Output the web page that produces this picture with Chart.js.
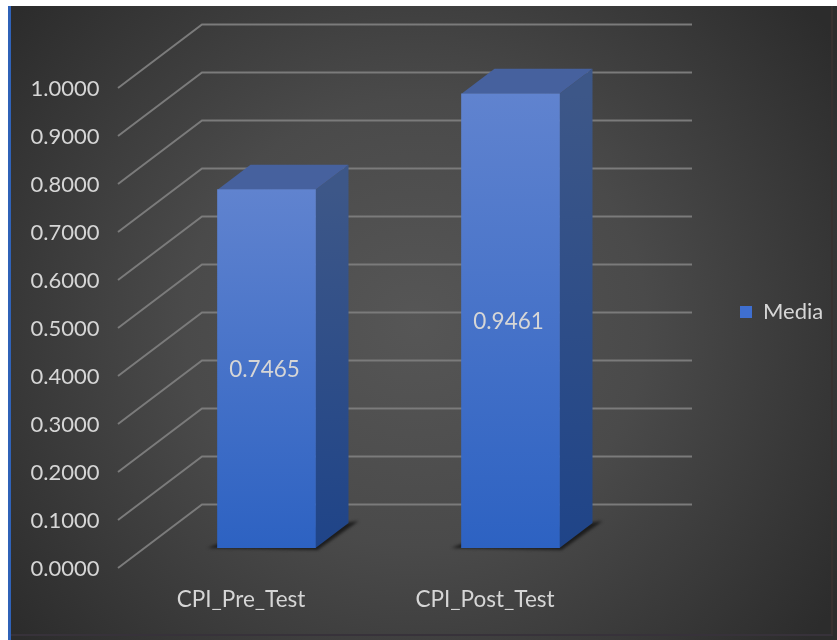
<!DOCTYPE html>
<html>
<head>
<meta charset="utf-8">
<script src="https://cdn.jsdelivr.net/npm/chart.js@4/dist/chart.umd.min.js"></script>
<style>
  html, body { margin: 0; padding: 0; background: #fff; }
  #wrap { position: relative; width: 837px; height: 640px; overflow: hidden; }
  #panel {
    position: absolute; left: 8px; top: 6px; width: 826px; height: 634px;
    border-left: 3px solid #2f62b8;
    background: radial-gradient(ellipse 62% 78% at 49% 50%, #565656 0%, #4a4a4a 45%, #2c2c2c 100%);
  }
  #edge {
    position: absolute; left: 11px; top: 6px; width: 820px; height: 628px;
    border-right: 2px solid #38302f;
    border-bottom: 2px solid #37323a;
  }
  canvas { position: absolute; left: 0; top: 0; }
</style>
</head>
<body>
<div id="wrap">
  <div id="panel"></div>
  <div id="edge"></div>
  <canvas id="chart" width="837" height="640"></canvas>
</div>
<script>
const categories = ['CPI_Pre_Test', 'CPI_Post_Test'];
const media = [0.7465, 0.9461];
const yMin = 0;
const yMax = 1;
const yStep = 0.1;

const textColor = '#d6d6d6';
const fontFamily = 'Lato, "Open Sans", sans-serif';

// 3d look: how far the back of a bar sits from its front face
const depthX = 33;
const depthY = 25;

function face(ctx, pts, fill) {
  ctx.fillStyle = fill;
  ctx.beginPath();
  ctx.moveTo(pts[0][0], pts[0][1]);
  for (let i = 1; i < pts.length; i++) ctx.lineTo(pts[i][0], pts[i][1]);
  ctx.closePath();
  ctx.fill();
}

// walls: slanted line on the side wall, then straight along the back wall
const wallLines = {
  id: 'wallLines',
  beforeDatasetsDraw(chart) {
    const ctx = chart.ctx;
    const y = chart.scales.y;
    ctx.save();
    ctx.lineWidth = 2;
    ctx.strokeStyle = '#7b7b7b';
    y.ticks.forEach(t => {
      const p = y.getPixelForValue(t.value);
      ctx.beginPath();
      ctx.moveTo(118, p + 20);
      ctx.lineTo(202, p - 43.5);
      ctx.lineTo(692, p - 43.5);
      ctx.stroke();
    });
    ctx.restore();
  }
};

// side, top and floor shadow of each bar, taken from the bar elements
const barSides = {
  id: 'barSides',
  beforeDatasetsDraw(chart) {
    const ctx = chart.ctx;
    chart.getDatasetMeta(0).data.forEach(bar => {
      const l = bar.x - bar.width / 2;
      const r = bar.x + bar.width / 2;
      const top = bar.y;
      const base = bar.base;

      ctx.save();
      ctx.filter = 'blur(1.5px)';
      face(ctx, [[l - 10, base], [l + 10, base - 8], [r + depthX + 10, base - depthY - 2], [r + 2, base + 2]], '#1c1c1c');
      ctx.restore();

      const side = ctx.createLinearGradient(0, top, 0, base);
      side.addColorStop(0, '#3d5788');
      side.addColorStop(1, '#1f4488');
      face(ctx, [[r, top], [r + depthX, top - depthY], [r + depthX, base - depthY], [r, base]], side);

      face(ctx, [[l, top], [l + depthX, top - depthY], [r + depthX, top - depthY], [r, top]], '#46619e');
    });
  }
};

// value written in the middle of each bar
const barValues = {
  id: 'barValues',
  afterDatasetsDraw(chart) {
    const ctx = chart.ctx;
    ctx.save();
    ctx.font = '22.5px ' + fontFamily;
    ctx.fillStyle = textColor;
    ctx.textAlign = 'center';
    ctx.textBaseline = 'middle';
    chart.getDatasetMeta(0).data.forEach((bar, i) => {
      ctx.fillText(media[i].toFixed(4), bar.x - 2, (bar.y + bar.base) / 2 + 1);
    });
    ctx.restore();
  }
};

// legend sits beside the plot, not inside it
const legendSpot = {
  id: 'legendSpot',
  afterLayout(chart) {
    const lg = chart.legend;
    lg.left = 736;
    lg.right = lg.left + lg.width;
    lg.top = 312 - lg.height / 2;
    lg.bottom = lg.top + lg.height;
  }
};

new Chart(document.getElementById('chart'), {
  type: 'bar',
  data: {
    labels: categories,
    datasets: [{
      label: 'Media',
      data: media,
      barThickness: 98,
      backgroundColor(c) {
        const area = c.chart.chartArea;
        if (!area) return '#3f6fd0';
        const y = c.chart.scales.y;
        const g = c.chart.ctx.createLinearGradient(0, y.getPixelForValue(c.raw), 0, y.getPixelForValue(0));
        g.addColorStop(0, '#6083cf');
        g.addColorStop(1, '#2d62c2');
        return g;
      }
    }]
  },
  options: {
    responsive: false,
    animation: false,
    layout: { padding: { left: 0, top: 68, right: 204.5, bottom: 30 } },
    scales: {
      x: {
        grid: { display: false },
        border: { display: false },
        afterFit(s) { s.height = 62; },
        ticks: {
          color: textColor,
          font: { family: fontFamily, size: 22.5 },
          padding: 30,
          labelOffset: -25.5,
          maxRotation: 0
        }
      },
      y: {
        min: yMin,
        max: yMax,
        grid: { display: false },
        border: { display: false },
        afterFit(s) { s.width = 144.5; },
        ticks: {
          stepSize: yStep,
          color: textColor,
          font: { family: fontFamily, size: 22 },
          padding: 37,
          labelOffset: 20.5,
          callback: v => v.toFixed(4)
        }
      }
    },
    plugins: {
      tooltip: { enabled: false },
      legend: {
        position: 'chartArea',
        labels: {
          color: textColor,
          font: { family: fontFamily, size: 22 },
          boxWidth: 12,
          boxHeight: 12,
          padding: 4,
          generateLabels(chart) {
            const items = Chart.defaults.plugins.legend.labels.generateLabels(chart);
            items.forEach(it => { it.fillStyle = '#3f6fd0'; it.strokeStyle = '#3f6fd0'; it.lineWidth = 0; });
            return items;
          }
        }
      }
    }
  },
  plugins: [wallLines, barSides, barValues, legendSpot]
});
</script>
</body>
</html>
